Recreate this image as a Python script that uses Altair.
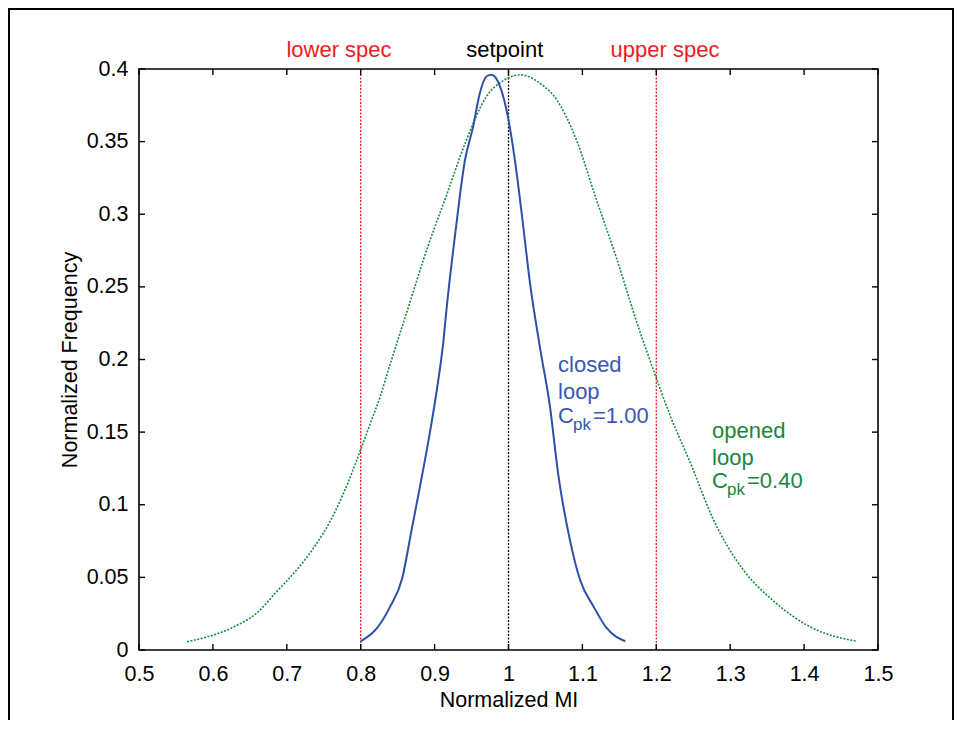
import altair as alt
import pandas as pd

# ---------------- data ----------------
open_x = [0.565, 0.627, 0.659, 0.686, 0.718, 0.740, 0.758, 0.776, 0.800, 0.813,
          0.826, 0.840, 0.862, 0.891, 0.916, 0.943, 0.970, 0.993, 1.016, 1.043,
          1.065, 1.092, 1.119, 1.146, 1.174, 1.196, 1.219, 1.246, 1.277, 1.318,
          1.358, 1.408, 1.471]
open_y = [0.0057, 0.0156, 0.0253, 0.040, 0.058, 0.073, 0.088, 0.107, 0.138, 0.156,
          0.174, 0.197, 0.232, 0.278, 0.313, 0.351, 0.381, 0.392, 0.396, 0.390,
          0.379, 0.351, 0.310, 0.270, 0.225, 0.193, 0.161, 0.129, 0.090, 0.055,
          0.034, 0.016, 0.006]

closed_x = [0.800, 0.822, 0.840, 0.856, 0.869, 0.880, 0.892, 0.903, 0.912, 0.916,
            0.928, 0.941, 0.952, 0.961, 0.9705, 0.977, 0.9885, 1.000, 1.009, 1.018,
            1.029, 1.043, 1.056, 1.067, 1.083, 1.097, 1.115, 1.133, 1.158]
closed_y = [0.006, 0.015, 0.030, 0.049, 0.083, 0.112, 0.145, 0.179, 0.213, 0.234,
            0.287, 0.337, 0.360, 0.383, 0.395, 0.396, 0.388, 0.365, 0.336, 0.300,
            0.253, 0.207, 0.168, 0.122, 0.076, 0.048, 0.030, 0.015, 0.006]

x_ticks = [0.5, 0.6, 0.7, 0.8, 0.9, 1.0, 1.1, 1.2, 1.3, 1.4, 1.5]
y_ticks = [0, 0.05, 0.1, 0.15, 0.2, 0.25, 0.3, 0.35, 0.4]
X_DOMAIN = [0.5, 1.5]
Y_DOMAIN = [0, 0.4]

RED = "#ee1c24"
BLACK = "#000000"
BLUE = "#2c50aa"
BLUE_TXT = "#3a57b0"
GREEN = "#168c3c"
GREEN_TXT = "#17873f"

spec_x = [0.8, 1.0, 1.2]
spec_lo = [Y_DOMAIN[0]] * 3
spec_hi = [Y_DOMAIN[1]] * 3
spec_color = [RED, BLACK, RED]

top_label = ["lower spec", "setpoint", "upper spec"]
top_label_x = [0.7706, 0.995, 1.2118]
top_label_y = [0.4, 0.4, 0.4]
top_label_color = [RED, BLACK, RED]

ann_text = ["closed", "loop", "C", "=1.00", "opened", "loop", "C", "=0.40"]
ann_x = [1.067, 1.067, 1.067, 1.1143, 1.2754, 1.2754, 1.2754, 1.3227]
ann_y = [0.1914, 0.1728, 0.1563, 0.1563, 0.146, 0.1274, 0.1115, 0.1115]
ann_color = [BLUE_TXT] * 4 + [GREEN_TXT] * 4

sub_text = ["pk", "pk"]
sub_x = [1.0873, 1.2957]
sub_y = [0.1515, 0.1067]
sub_color = [BLUE_TXT, GREEN_TXT]

FONT = "Liberation Sans"
W, H = 739, 581
TICK = 6

open_df = pd.DataFrame({"x": open_x, "y": open_y})
closed_df = pd.DataFrame({"x": closed_x, "y": closed_y})
spec_df = pd.DataFrame({"x": spec_x, "ylo": spec_lo, "yhi": spec_hi, "c": spec_color})
top_df = pd.DataFrame({"x": top_label_x, "y": top_label_y, "t": top_label, "c": top_label_color})
ann_df = pd.DataFrame({"x": ann_x, "y": ann_y, "t": ann_text, "c": ann_color})
sub_df = pd.DataFrame({"x": sub_x, "y": sub_y, "t": sub_text, "c": sub_color})
xt_df = pd.DataFrame({"v": x_ticks})
yt_df = pd.DataFrame({"v": y_ticks})

xs = alt.Scale(domain=X_DOMAIN, nice=False, zero=False)
ys = alt.Scale(domain=Y_DOMAIN, nice=False, zero=False)

ax_x_main = alt.Axis(orient="bottom", values=x_ticks, format="~g", ticks=False, domain=False,
                     grid=False, labelPadding=13, labelFlush=False, labelOverlap=False,
                     title="Normalized MI", titlePadding=5)
ax_y_main = alt.Axis(orient="left", values=y_ticks, format="~g", ticks=False, domain=False,
                     grid=False, labelPadding=11, labelOverlap=False,
                     title="Normalized Frequency", titlePadding=5)

frame = alt.Chart(pd.DataFrame({"a": [0]})).mark_rect(
    fillOpacity=0, stroke="black", strokeWidth=2
).encode(
    x=alt.value(-130), x2=alt.value(W + 75), y=alt.value(-60), y2=alt.value(H + 120)
)

# inward tick marks on all four sides (positions from the scales)
tick_mark = dict(color="black", strokeWidth=1.4)
ticks_bottom = alt.Chart(xt_df).mark_rule(**tick_mark).encode(
    x=alt.X("v:Q", scale=xs, axis=None), y=alt.value(H), y2=alt.value(H - TICK))
ticks_top = alt.Chart(xt_df).mark_rule(**tick_mark).encode(
    x=alt.X("v:Q", scale=xs, axis=None), y=alt.value(0), y2=alt.value(TICK))
ticks_left = alt.Chart(yt_df).mark_rule(**tick_mark).encode(
    y=alt.Y("v:Q", scale=ys, axis=None), x=alt.value(0), x2=alt.value(TICK))
ticks_right = alt.Chart(yt_df).mark_rule(**tick_mark).encode(
    y=alt.Y("v:Q", scale=ys, axis=None), x=alt.value(W), x2=alt.value(W - TICK))

rules = alt.Chart(spec_df).mark_rule(strokeDash=[2, 1.5], strokeWidth=1.3).encode(
    x=alt.X("x:Q", scale=xs, axis=None),
    y=alt.Y("ylo:Q", scale=ys, axis=None),
    y2="yhi:Q",
    color=alt.Color("c:N", scale=None),
)

green = alt.Chart(open_df).mark_line(
    color=GREEN, strokeDash=[2, 1.5], strokeWidth=1.6, interpolate="monotone"
).encode(
    x=alt.X("x:Q", scale=xs, axis=ax_x_main),
    y=alt.Y("y:Q", scale=ys, axis=ax_y_main),
)

blue = alt.Chart(closed_df).mark_line(
    color=BLUE, strokeWidth=2, interpolate="monotone"
).encode(
    x=alt.X("x:Q", scale=xs, axis=None),
    y=alt.Y("y:Q", scale=ys, axis=None),
)

top_text = alt.Chart(top_df).mark_text(
    dy=-12, baseline="alphabetic", align="center", fontSize=22, font=FONT
).encode(
    x=alt.X("x:Q", scale=xs, axis=None),
    y=alt.Y("y:Q", scale=ys, axis=None),
    text="t:N",
    color=alt.Color("c:N", scale=None),
)

ann = alt.Chart(ann_df).mark_text(
    baseline="alphabetic", align="left", fontSize=22, font=FONT
).encode(
    x=alt.X("x:Q", scale=xs, axis=None),
    y=alt.Y("y:Q", scale=ys, axis=None),
    text="t:N",
    color=alt.Color("c:N", scale=None),
)

sub = alt.Chart(sub_df).mark_text(
    baseline="alphabetic", align="left", fontSize=17, font=FONT
).encode(
    x=alt.X("x:Q", scale=xs, axis=None),
    y=alt.Y("y:Q", scale=ys, axis=None),
    text="t:N",
    color=alt.Color("c:N", scale=None),
)

chart = alt.layer(
    frame, rules, green, blue, ticks_bottom, ticks_top, ticks_left, ticks_right,
    top_text, ann, sub
).resolve_axis(
    x="independent", y="independent"
).properties(
    width=W, height=H,
    padding={"left": 131, "top": 61, "right": 77, "bottom": 70},
    autosize=alt.AutoSizeParams(type="none"),
    background="white",
).configure_axis(
    labelFont=FONT, titleFont=FONT, labelFontSize=21.5, titleFontSize=21.5,
    titleFontWeight="normal", labelColor="black", titleColor="black",
).configure_view(stroke="black", strokeWidth=1.6)

chart.save("out.html", embed_options={"renderer": "svg", "actions": False})
